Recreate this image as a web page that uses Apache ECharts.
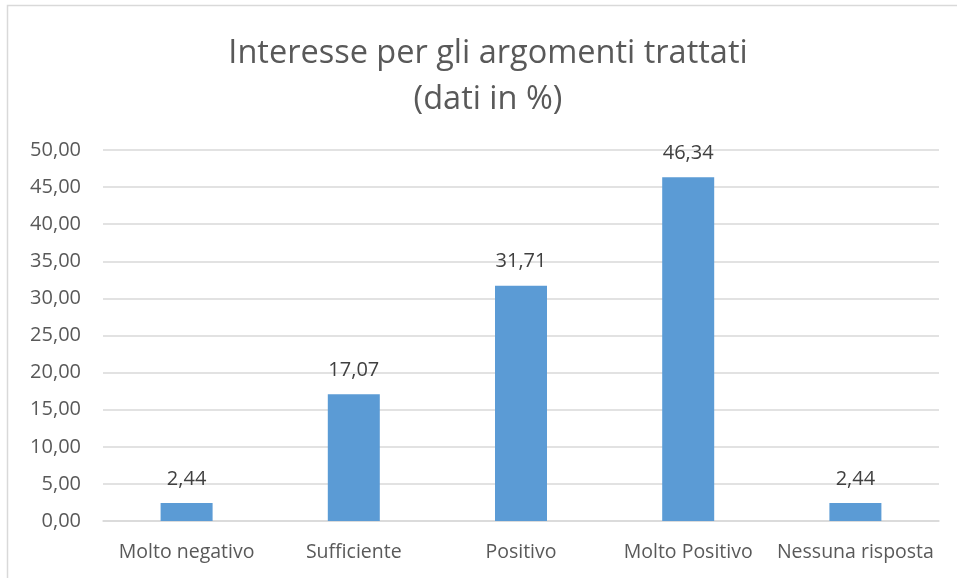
<!DOCTYPE html>
<html>
<head>
<meta charset="utf-8">
<script src="https://cdn.jsdelivr.net/npm/echarts@6/dist/echarts.min.js"></script>
<style>
  html, body { margin: 0; padding: 0; background: #fff; }
  #main { width: 957px; height: 578px; }
</style>
</head>
<body>
<div id="main"></div>
<script>
var categories = ['Molto negativo', 'Sufficiente', 'Positivo', 'Molto Positivo', 'Nessuna risposta'];
var values = [2.44, 17.07, 31.71, 46.34, 2.44];
var titleLines = ['Interesse per gli argomenti trattati', '(dati in %)'];

function fmt(v) {
  return Number(v).toFixed(2).replace('.', ',');
}

var font = '"Open Sans", "Noto Sans", sans-serif';
var myChart = echarts.init(document.getElementById('main'));
var option = {
  animation: false,
  graphic: [{
    type: 'rect',
    shape: { x: 7.5, y: 5.5, width: 980, height: 600 },
    style: { fill: 'none', stroke: '#d9d9d9', lineWidth: 1.5 },
    silent: true
  }, {
    // title centred on the chart frame, not the window
    type: 'text',
    x: 488,
    y: 31,
    silent: true,
    style: {
      text: titleLines.join('\n'),
      align: 'center',
      verticalAlign: 'top',
      font: 'normal 32.5px ' + font,
      lineHeight: 46,
      fill: '#595959'
    }
  }],
  grid: { left: 103, right: 18, top: 150, bottom: 57, containLabel: false },
  xAxis: {
    type: 'category',
    data: categories,
    axisLine: { lineStyle: { color: '#d9d9d9', width: 1.5 } },
    axisTick: { show: false },
    axisLabel: { color: '#595959', fontFamily: font, fontSize: 19.5, margin: 21, interval: 0 }
  },
  yAxis: {
    type: 'value',
    min: 0,
    max: 50,
    interval: 5,
    axisLine: { show: false },
    axisTick: { show: false },
    splitLine: { lineStyle: { color: '#d9d9d9', width: 1.5 } },
    axisLabel: { color: '#595959', fontFamily: font, fontSize: 20, margin: 22, formatter: fmt }
  },
  series: [{
    type: 'bar',
    data: values,
    barWidth: 52,
    itemStyle: { color: '#5b9bd5' },
    label: {
      show: true,
      position: 'top',
      distance: 14,
      color: '#404040',
      fontFamily: font,
      fontSize: 20,
      formatter: function (p) { return fmt(p.value); }
    }
  }]
};
myChart.setOption(option);
</script>
</body>
</html>
